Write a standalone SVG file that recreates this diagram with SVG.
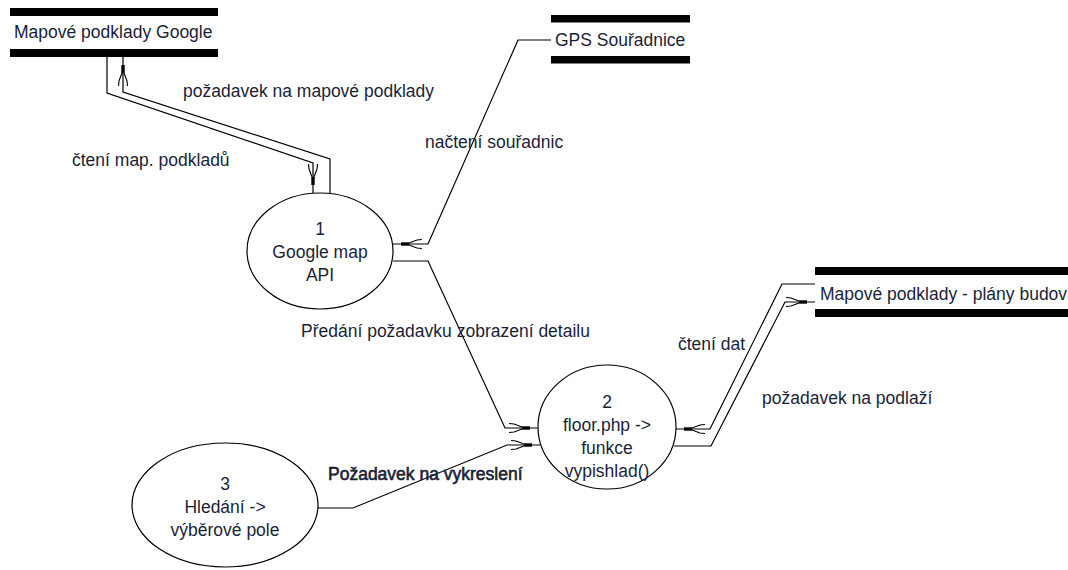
<svg xmlns="http://www.w3.org/2000/svg" width="1068" height="570" viewBox="0 0 1068 570">
<style>
text{font-family:"Liberation Sans",Arial,sans-serif;font-size:17.5px;fill:#1a1f38}
.c{text-anchor:middle}
.bar{fill:#000}
.node ellipse{fill:#fff;stroke:#000;stroke-width:1.2}
#connectors path{fill:none;stroke:#000;stroke-width:1.2}
.b{stroke:#1a1f38;stroke-width:0.6}
</style>
<defs>
<marker id="arr" markerWidth="40" markerHeight="20" refX="30" refY="10" orient="auto" markerUnits="userSpaceOnUse" overflow="visible">
<rect x="14" y="8.3" width="8" height="3.4" fill="#000"/>
<path d="M14 9 L6 6 L1 5.5 M14 11 L6 14 L1 14.5" stroke="#000" stroke-width="1.1" fill="none"/>
</marker>
</defs>
<rect width="1068" height="570" fill="#fff"/>
<g id="connectors">
<path d="M107,57 L107,93 L313,163 L313,193" marker-end="url(#arr)"/>
<path d="M330,193 L330,159 L123,92 L123,57" marker-end="url(#arr)"/>
<path d="M551,40 L518,40 L428,244 L393,244" marker-end="url(#arr)"/>
<path d="M393,261 L428,261 L505,428 L538,428" marker-end="url(#arr)"/>
<path d="M317,508 L353,508 L507,445 L540,445" marker-end="url(#arr)"/>
<path d="M815,284 L782,284 L710,429 L676,429" marker-end="url(#arr)"/>
<path d="M674,446 L711,446 L785,302 L815,302" marker-end="url(#arr)"/>
</g>
<g id="labels">
<text x="183" y="97">požadavek na mapové podklady</text>
<text x="72" y="166">čtení map. podkladů</text>
<text x="425" y="148">načtení souřadnic</text>
<text x="301" y="337">Předání požadavku zobrazení detailu</text>
<text x="678" y="350">čtení dat</text>
<text x="762" y="404">požadavek na podlaží</text>
<text x="328" y="480" class="b">Požadavek na vykreslení</text>
</g>
<g id="store-google">
<rect class="bar" x="10" y="8" width="208" height="8"/>
<rect class="bar" x="10" y="49" width="208" height="8"/>
<text x="14" y="38">Mapové podklady Google</text>
</g>
<g id="store-gps">
<rect class="bar" x="551" y="15" width="139" height="7.5"/>
<rect class="bar" x="551" y="56" width="139" height="7.5"/>
<text x="555" y="46">GPS Souřadnice</text>
</g>
<g id="store-plany">
<rect class="bar" x="815" y="267" width="253" height="8"/>
<rect class="bar" x="815" y="309" width="253" height="8"/>
<text x="820" y="300">Mapové podklady - plány budov</text>
</g>
<g id="node1" class="node">
<ellipse cx="320" cy="251" rx="73" ry="58"/>
<text class="c" x="320" y="235">1</text>
<text class="c" x="320" y="258">Google map</text>
<text class="c" x="320" y="281">API</text>
</g>
<g id="node2" class="node">
<ellipse cx="607" cy="427" rx="69" ry="62"/>
<text class="c" x="607" y="408">2</text>
<text class="c" x="607" y="431">floor.php -&gt;</text>
<text class="c" x="607" y="454">funkce</text>
<text class="c" x="607" y="477">vypishlad()</text>
</g>
<g id="node3" class="node">
<ellipse cx="225" cy="505" rx="93" ry="62"/>
<text class="c" x="225" y="490">3</text>
<text class="c" x="225" y="513">Hledání -&gt;</text>
<text class="c" x="225" y="536">výběrové pole</text>
</g>
</svg>
